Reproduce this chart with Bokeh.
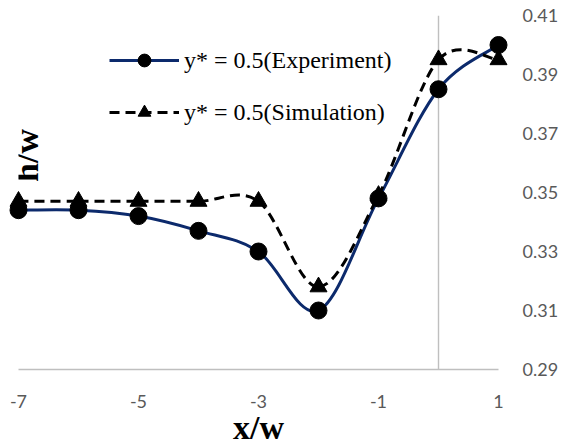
import numpy as np
from bokeh.plotting import figure
from bokeh.models import (FixedTicker, Span, Legend, LegendItem, Label)
from bokeh.embed import file_html
from bokeh.resources import INLINE

# ---- data ----
x_vals = [-7, -6, -5, -4, -3, -2, -1, 0, 1]
exp_vals = [0.344, 0.344, 0.342, 0.337, 0.330, 0.310, 0.348, 0.385, 0.400]
sim_vals = [0.347, 0.347, 0.347, 0.347, 0.347, 0.318, 0.349, 0.395, 0.395]
exp_label = "y* = 0.5(Experiment)"
sim_label = "y* = 0.5(Simulation)"
x_ticks = [-7, -5, -3, -1, 1]
x_tick_labels = ["-7", "-5", "-3", "-1", "1"]
y_ticks = [0.29, 0.31, 0.33, 0.35, 0.37, 0.39, 0.41]
y_tick_labels = ["0.29", "0.31", "0.33", "0.35", "0.37", "0.39", "0.41"]
x_title = "x/w"
y_title = "h/w"
y_axis_cross = 0


def smooth_segments(xs, ys):
    """Excel-like smoothed line: cubic Bezier control points from neighbours."""
    x = np.asarray(xs, float)
    y = np.asarray(ys, float)
    n = len(x)
    seg = dict(x0=[], y0=[], x1=[], y1=[], cx0=[], cy0=[], cx1=[], cy1=[])
    for i in range(n - 1):
        p0 = (x[i - 1], y[i - 1]) if i > 0 else (x[i], y[i])
        p1 = (x[i], y[i])
        p2 = (x[i + 1], y[i + 1])
        p3 = (x[i + 2], y[i + 2]) if i + 2 < n else (x[i + 1], y[i + 1])
        seg["x0"].append(p1[0]); seg["y0"].append(p1[1])
        seg["x1"].append(p2[0]); seg["y1"].append(p2[1])
        seg["cx0"].append(p1[0] + (p2[0] - p0[0]) / 6)
        seg["cy0"].append(p1[1] + (p2[1] - p0[1]) / 6)
        seg["cx1"].append(p2[0] - (p3[0] - p1[0]) / 6)
        seg["cy1"].append(p2[1] - (p3[1] - p1[1]) / 6)
    return seg


p = figure(frame_width=480, frame_height=354,
           x_range=(-7, 1), y_range=(0.29, 0.41),
           output_backend="svg", toolbar_location=None,
           y_axis_location="right",
           min_border_left=18, min_border_top=15,
           min_border_right=62, min_border_bottom=79)
p.outline_line_color = None
p.background_fill_color = "white"
p.border_fill_color = "white"
p.xgrid.visible = False
p.ygrid.visible = False

tick_font = "Lato"
xa = p.xaxis[0]
xa.ticker = FixedTicker(ticks=x_ticks)
xa.major_label_overrides = {t: s for t, s in zip(x_ticks, x_tick_labels)}
xa.axis_line_color = "#BFBFBF"
xa.axis_line_width = 1.4
xa.major_tick_line_color = None
xa.minor_tick_line_color = None
xa.major_label_text_font = tick_font
xa.major_label_text_font_size = "18px"
xa.major_label_text_color = "#595959"
xa.major_label_standoff = 19
xa.axis_label = x_title
xa.axis_label_text_font = "Liberation Serif"
xa.axis_label_text_font_style = "bold"
xa.axis_label_text_font_size = "34px"
xa.axis_label_text_color = "black"
xa.axis_label_standoff = -2

ya = p.yaxis[0]
ya.ticker = FixedTicker(ticks=y_ticks)
ya.major_label_overrides = {t: s for t, s in zip(y_ticks, y_tick_labels)}
ya.axis_line_color = None
ya.major_tick_line_color = None
ya.minor_tick_line_color = None
ya.major_label_text_font = tick_font
ya.major_label_text_font_size = "18px"
ya.major_label_text_color = "#595959"
ya.major_label_standoff = 18

vline = Span(location=y_axis_cross, dimension="height", line_color="#BFBFBF",
             line_width=1.4, level="underlay")
p.add_layout(vline)

exp_seg = smooth_segments(x_vals, exp_vals)
sim_seg = smooth_segments(x_vals, sim_vals)

exp_curve = p.bezier(x0="x0", y0="y0", x1="x1", y1="y1", cx0="cx0", cy0="cy0",
                     cx1="cx1", cy1="cy1", source=exp_seg,
                     line_color="#0C2A6C", line_width=3)
sim_curve = p.bezier(x0="x0", y0="y0", x1="x1", y1="y1", cx0="cx0", cy0="cy0",
                     cx1="cx1", cy1="cy1", source=sim_seg,
                     line_color="black", line_width=3, line_dash="10 6")
exp_pts = p.scatter(x_vals, exp_vals, marker="circle", size=17,
                    fill_color="black", line_color="black", level="overlay")
sim_pts = p.scatter(x_vals, sim_vals, marker="triangle", size=17,
                    fill_color="black", line_color="black", level="overlay")

legend = Legend(items=[LegendItem(label=exp_label, renderers=[exp_curve, exp_pts]),
                       LegendItem(label=sim_label, renderers=[sim_curve, sim_pts])],
                location=(91, 241), padding=0, margin=0, spacing=20,
                glyph_width=70, glyph_height=32, label_height=32,
                label_standoff=5, label_text_font="Liberation Serif",
                label_text_font_size="24px", label_text_color="black",
                border_line_alpha=0, background_fill_alpha=0)
p.add_layout(legend)

yt = Label(x=8, y=214, x_units="screen", y_units="screen", text=y_title,
           angle=np.pi / 2, text_font="Liberation Serif",
           text_font_style="bold", text_font_size="34px",
           text_align="center", text_baseline="alphabetic",
           text_color="black", level="overlay")
p.add_layout(yt)

open("out.html", "w").write(file_html(p, INLINE))
